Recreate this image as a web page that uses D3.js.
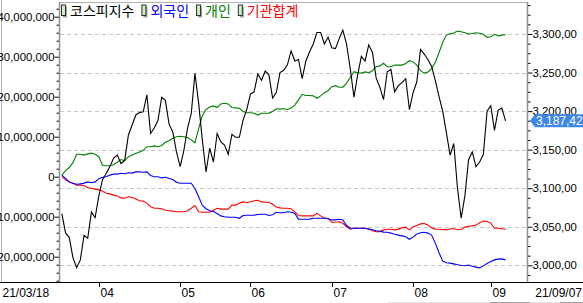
<!DOCTYPE html>
<html>
<head>
<meta charset="utf-8">
<script src="https://cdn.jsdelivr.net/npm/d3@7"></script>
<style>
  body { margin: 0; background: #fff; }
  text { font-family: "Liberation Sans", Arial, sans-serif; font-size: 12px; }
  .kr { font-family: "Noto Sans CJK KR", sans-serif; font-size: 14px; }
</style>
</head>
<body>
<div id="wrapper"></div>
<script>
// trading days 21/03/18 .. 21/09/07, one value per day
const kospi = [3067, 3042, 3036, 3010, 2997, 3007, 3039, 3035, 3069, 3062,
  3090, 3111, 3119, 3128, 3139, 3143, 3132, 3136, 3169, 3182,
  3195, 3198, 3199, 3221, 3171, 3178, 3188, 3218, 3214, 3183,
  3173, 3147, 3128, 3149, 3178, 3197, 3249, 3210, 3162, 3121,
  3152, 3134, 3171, 3160, 3156, 3144, 3170, 3166, 3166, 3188,
  3202, 3222, 3225, 3248, 3240, 3252, 3247, 3217, 3224, 3250,
  3253, 3260, 3278, 3265, 3267, 3242, 3265, 3277, 3287, 3302,
  3302, 3287, 3296, 3282, 3281, 3294, 3305, 3287, 3255, 3218,
  3247, 3271, 3265, 3286, 3276, 3243, 3231, 3215, 3251, 3254,
  3225, 3233, 3237, 3242, 3202, 3224, 3238, 3280, 3274, 3267,
  3258, 3240, 3219, 3200, 3172, 3143, 3158, 3100, 3061, 3090,
  3137, 3147, 3128, 3134, 3144, 3200, 3207, 3175, 3201, 3204, 3187.42]

// cumulative net buying, in millions of axis units (x 1,000,000)
const foreign = [0.4, -0.4, -1.3, -1.65, -1.9, -1.8, -1.6, -1.3, -1.5, -1.3,
  -0.5, -0.15, 0, 0.4, 0.65, 0.65, 0.85, 0.75, 1.0, 0.9,
  1.2, 1.25, 1.1, 1.2, 0.3, 0, 0, -0.3, -0.15, -0.45,
  -0.7, -1.4, -1.65, -1.65, -1.65, -1.65, -3.0, -5.0, -7.2, -8.0,
  -8.5, -8.7, -9.2, -9.8, -10.0, -10.1, -10.15, -10.15, -10.4, -9.7,
  -9.65, -9.65, -9.6, -9.45, -9.4, -9.4, -9.7, -9.5, -8.9, -9.0,
  -9.0, -8.75, -8.9, -9.2, -10.6, -10.65, -10.65, -10.6, -10.4, -10.4,
  -10.4, -10.4, -10.5, -10.8, -10.8, -10.65, -10.8, -12.2, -12.9, -12.9,
  -12.9, -12.9, -12.9, -13.1, -13.25, -13.5, -13.6, -13.85, -13.9, -14.1,
  -14.4, -14.6, -14.8, -15.0, -15.65, -15.1, -14.3, -14.0, -13.9, -14.1,
  -14.6, -16.6, -19.0, -21.1, -21.5, -21.6, -21.8, -22.0, -22.2, -22.25,
  -22.1, -22.4, -22.6, -22.8, -22.3, -21.7, -21.2, -20.8, -20.6, -20.55, -20.8]

const individual = [0.4, 1.5, 2.3, 3.5, 5.6, 5.6, 5.4, 5.7, 5.9, 5.6,
  5.0, 2.8, 2.75, 2.75, 3.0, 3.6, 4.3, 4.0, 5.0, 5.4,
  5.8, 6.2, 6.6, 7.5, 7.5, 7.7, 7.5, 7.8, 8.6, 9.0,
  9.6, 10.0, 10.1, 10.0, 9.8, 9.2, 8.5, 12.0, 15.3, 16.8,
  17.4, 17.7, 17.3, 18.2, 18.35, 18.2, 17.3, 17.2, 17.1, 16.3,
  16.0, 16.0, 15.85, 15.4, 15.85, 15.85, 15.9, 16.3, 17.0, 16.9,
  17.0, 16.8, 17.2, 17.9, 19.2, 20.6, 20.3, 20.3, 20.2, 19.6,
  20.2, 21.0, 21.5, 22.5, 22.75, 22.35, 22.4, 23.4, 24.8, 26.25,
  26.0, 25.9, 26.2, 26.0, 26.5, 27.5, 27.7, 28.35, 27.5, 27.5,
  27.9, 27.9, 27.9, 28.3, 29.0, 28.7, 27.9, 26.5, 25.9, 26.2,
  27.0, 28.6, 31.0, 33.6, 35.4, 35.7, 35.9, 36.4, 36.25, 36.0,
  35.7, 35.8, 36.0, 35.85, 35.6, 34.85, 35.0, 35.6, 35.2, 35.4, 35.5]

const institution = [0, -0.8, -1.3, -1.65, -2.1, -2.1, -2.2, -2.75, -2.9, -3.1,
  -3.3, -3.6, -4.15, -4.3, -4.6, -4.8, -5.3, -5.4, -5.0, -5.2,
  -5.6, -6.0, -6.1, -6.6, -7.5, -7.9, -7.9, -8.0, -8.4, -8.5,
  -8.6, -8.75, -8.75, -8.75, -8.5, -7.9, -7.2, -8.75, -8.9, -8.9,
  -8.9, -8.4, -7.9, -8.1, -8.1, -8.1, -7.1, -7.1, -6.65, -6.3,
  -6.5, -6.25, -6.0, -5.9, -6.3, -6.4, -6.4, -6.9, -7.6, -7.8,
  -7.9, -7.9, -8.0, -8.8, -9.7, -9.8, -9.8, -9.8, -9.8, -9.15,
  -9.8, -10.4, -10.4, -11.4, -11.4, -11.25, -11.65, -12.5, -13.1, -12.9,
  -12.9, -12.9, -12.9, -13.0, -13.5, -13.75, -13.75, -13.3, -13.15, -13.15,
  -13.3, -13.1, -12.8, -12.6, -13.3, -12.5, -12.2, -11.8, -11.7, -12.1,
  -12.75, -13.1, -13.15, -13.2, -13.3, -13.0, -13.0, -13.25, -13.2, -12.6,
  -12.4, -12.3, -12.1, -11.5, -11.1, -11.2, -11.6, -12.9, -12.9, -13.0, -13.15]

const seriesNames = ['코스피지수', '외국인', '개인', '기관합계']
const seriesColors = ['#000000', '#0000ff', '#008000', '#ff0000']

const monthLabels = ['04', '05', '06', '07', '08', '09']
const monthIndex = [10, 32, 51, 73, 95, 116]
const firstDate = '21/03/18'
const lastDate = '21/09/07'

const leftTicks = [-20, -10, 0, 10, 20, 30, 40]
const rightTicks = [3000, 3050, 3100, 3150, 3200, 3250, 3300]

const dimensions = {
  width: 583,
  height: 303,
  plotLeft: 60,
  plotRight: 527,
  plotTop: 2,
  plotBottom: 282,
}

const svg = d3.select('#wrapper')
  .append('svg')
    .attr('width', dimensions.width)
    .attr('height', dimensions.height)

svg.append('rect')
    .attr('width', dimensions.width)
    .attr('height', dimensions.height)
    .attr('fill', '#fff')

const xScale = d3.scaleLinear()
    .domain([-0.5, 125.8])
    .range([dimensions.plotLeft, dimensions.plotRight])

const yLeft = d3.scaleLinear()
    .domain([-26.325, 43.675])
    .range([dimensions.plotBottom, dimensions.plotTop])

const yRight = d3.scaleLinear()
    .domain([2978.34, 3341.5])
    .range([dimensions.plotBottom, dimensions.plotTop])

// grid
svg.append('g')
  .selectAll('line')
  .data(rightTicks)
  .join('line')
    .attr('x1', dimensions.plotLeft)
    .attr('x2', dimensions.plotRight)
    .attr('y1', d => Math.round(yRight(d)) + 0.5)
    .attr('y2', d => Math.round(yRight(d)) + 0.5)
    .attr('stroke', '#c8c8c8')
    .attr('stroke-dasharray', '4,3')

// frame
svg.append('line')
    .attr('x1', dimensions.plotLeft).attr('x2', dimensions.plotRight)
    .attr('y1', 2.5).attr('y2', 2.5)
    .attr('stroke', '#b0b0b0')
svg.append('line')
    .attr('x1', 1.5).attr('x2', 1.5)
    .attr('y1', 0).attr('y2', dimensions.plotBottom)
    .attr('stroke', '#b0b0b0')

// left axis
const leftMinor = d3.range(-26, 44, 2).filter(v => v % 10 !== 0)
svg.append('g')
    .attr('transform', `translate(${dimensions.plotLeft - 0.5},0)`)
    .call(d3.axisLeft(yLeft).tickValues(leftMinor).tickSize(3).tickFormat(''))
    .call(g => g.select('.domain').remove())
svg.append('g')
    .attr('transform', `translate(${dimensions.plotLeft - 0.5},0)`)
    .call(d3.axisLeft(yLeft).tickValues(leftTicks).tickSize(5).tickPadding(0)
      .tickFormat(d => d3.format(',')(d * 1000000)))
    .call(g => g.select('.domain').remove())
    .call(g => g.selectAll('text')
      .attr('fill', '#000')
      .style('font-family', '"Liberation Sans", Arial, sans-serif')
      .style('font-size', '11.4px'))

// right axis
const rightMinor = d3.range(2987.5, 3341, 12.5).filter(v => v % 50 !== 0)
svg.append('g')
    .attr('transform', `translate(${dimensions.plotRight + 0.5},0)`)
    .call(d3.axisRight(yRight).tickValues(rightMinor).tickSize(3).tickFormat(''))
    .call(g => g.select('.domain').remove())
svg.append('g')
    .attr('transform', `translate(${dimensions.plotRight + 0.5},0)`)
    .call(d3.axisRight(yRight).tickValues(rightTicks).tickSize(5).tickPadding(0)
      .tickFormat(d => d3.format(',')(d) + ',00'))
    .call(g => g.select('.domain').remove())
    .call(g => g.selectAll('text')
      .attr('fill', '#000')
      .style('font-family', '"Liberation Sans", Arial, sans-serif')
      .style('font-size', '11.4px'))

svg.append('line')
    .attr('x1', dimensions.plotLeft - 0.5).attr('x2', dimensions.plotLeft - 0.5)
    .attr('y1', 2).attr('y2', dimensions.plotBottom)
    .attr('stroke', '#909090').attr('stroke-width', 1.5)
svg.append('line')
    .attr('x1', dimensions.plotRight + 0.5).attr('x2', dimensions.plotRight + 0.5)
    .attr('y1', 2).attr('y2', dimensions.plotBottom)
    .attr('stroke', '#909090').attr('stroke-width', 1.5)

// bottom axis
svg.append('line')
    .attr('x1', 0).attr('x2', dimensions.width)
    .attr('y1', dimensions.plotBottom + 0.5).attr('y2', dimensions.plotBottom + 0.5)
    .attr('stroke', '#000')

const monthGroups = svg.append('g')
  .selectAll('g')
  .data(monthIndex)
  .join('g')
    .attr('transform', d => `translate(${Math.round(xScale(d)) + 0.5},0)`)
monthGroups.append('line')
    .attr('y1', dimensions.plotBottom).attr('y2', dimensions.plotBottom + 5)
    .attr('stroke', '#000')
monthGroups.append('text')
    .attr('x', 1)
    .attr('y', 297)
    .text((d, i) => monthLabels[i])

svg.append('text').attr('x', 2.5).attr('y', 297).text(firstDate)
svg.append('text').attr('x', 582).attr('y', 297)
    .attr('text-anchor', 'end').text(lastDate)

// faint bottom strip
svg.append('line').attr('x1', 388).attr('x2', 583).attr('y1', 302.5).attr('y2', 302.5)
    .attr('stroke', '#e4e4e4')
svg.append('line').attr('x1', 490).attr('x2', 530).attr('y1', 302.5).attr('y2', 302.5)
    .attr('stroke', '#a0a0a0')
svg.append('line').attr('x1', 560).attr('x2', 583).attr('y1', 302.5).attr('y2', 302.5)
    .attr('stroke', '#a0a0a0')

// lines
const lineLeft = d3.line()
    .x((d, i) => xScale(i))
    .y(d => yLeft(d))
const lineRight = d3.line()
    .x((d, i) => xScale(i))
    .y(d => yRight(d))

const lines = svg.append('g').attr('fill', 'none').attr('stroke-width', 1.1)
lines.append('path').attr('d', lineLeft(institution)).attr('stroke', seriesColors[3])
lines.append('path').attr('d', lineLeft(foreign)).attr('stroke', seriesColors[1])
lines.append('path').attr('d', lineLeft(individual)).attr('stroke', seriesColors[2])
lines.append('path').attr('d', lineRight(kospi)).attr('stroke', seriesColors[0])

// legend
const legend = svg.append('g')
let lx = 61.5
seriesNames.forEach((name, i) => {
  legend.append('rect')
      .attr('x', lx + 1.5).attr('y', 6.5).attr('width', 4).attr('height', 11)
      .attr('fill', '#a0a0a0')
  legend.append('rect')
      .attr('x', lx).attr('y', 5).attr('width', 4).attr('height', 10.5)
      .attr('fill', '#c8f0c0').attr('stroke', '#303030')
  const t = legend.append('text')
      .attr('class', 'kr')
      .attr('x', lx + 8.5)
      .attr('y', 16)
      .attr('fill', seriesColors[i])
      .text(name)
  lx += 8.5 + t.node().getComputedTextLength() + 7.5
})

// last value tag
const lastValue = kospi[kospi.length - 1]
const tagY = yRight(lastValue)
svg.append('path')
    .attr('d', `M530,${tagY} L535,${tagY - 6.5} L583,${tagY - 6.5} L583,${tagY + 6.5} L535,${tagY + 6.5} Z`)
    .attr('fill', '#3d86ea')
svg.append('text')
    .attr('x', 536)
    .attr('y', tagY)
    .attr('dy', '0.36em')
    .attr('fill', '#fff')
    .text(d3.format(',.2f')(lastValue).replace('.', ','))
</script>
</body>
</html>
